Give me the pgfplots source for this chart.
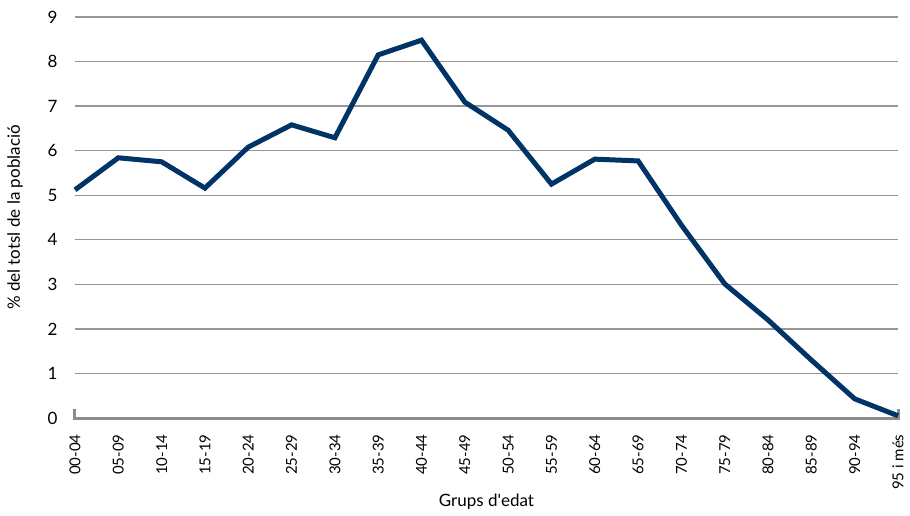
\documentclass[border=0pt]{standalone}
\usepackage{fontspec}
\setmainfont{Lato}
\usepackage{pgfplots}
\pgfplotsset{compat=1.18}
\definecolor{navy}{RGB}{0,52,102}
\definecolor{gridg}{RGB}{150,150,150}
\definecolor{axg}{RGB}{140,140,142}
\begin{document}
\fontsize{16pt}{19pt}\selectfont
\begin{tikzpicture}
\path[use as bounding box] (-75pt,-97pt) rectangle (835pt,418pt);
\begin{axis}[
  scale only axis, width=823pt, height=401pt,
  at={(0,0)}, anchor=south west,
  xmin=0, xmax=19, ymin=0, ymax=9,
  xtick={0,...,19},
  xticklabels={00-04,05-09,10-14,15-19,20-24,25-29,30-34,35-39,40-44,45-49,50-54,55-59,60-64,65-69,70-74,75-79,80-84,85-89,90-94,95 i més},
  xticklabel style={rotate=90, anchor=east, xshift=-11pt, font=\fontsize{15pt}{18pt}\selectfont},
  ytick={0,...,9},
  yticklabel style={font=\fontsize{17pt}{20pt}\selectfont, xshift=-12pt},
  /pgf/number format/assume math mode=true,
  major tick length=0pt,
  axis x line=bottom, axis y line=left,
  axis line style={draw=none, -},
  ymajorgrids, grid style={gridg, line width=1.3pt},
  clip=false,
  xlabel={Grups d\textquotesingle edat}, xlabel style={font=\fontsize{17pt}{20pt}\selectfont, at={(axis description cs:0.5,0)}, anchor=center, yshift=-84pt},
  ylabel={\% del totsl de la població}, ylabel style={font=\fontsize{17pt}{20pt}\selectfont, at={(axis description cs:0,0.5)}, anchor=center, yshift=60pt},
]
\draw[axg, line width=3pt] (axis cs:0,0.2) -- (axis cs:0,0) -- (axis cs:19,0) -- (axis cs:19,0.2);
\addplot[navy, line width=5pt, line join=miter, mark=none] coordinates {
(0,5.12) (1,5.84) (2,5.75) (3,5.16) (4,6.08) (5,6.58) (6,6.29) (7,8.15) (8,8.48) (9,7.09)
(10,6.46) (11,5.25) (12,5.81) (13,5.77) (14,4.33) (15,3.01) (16,2.20) (17,1.30) (18,0.43) (19,0.05)
};
\end{axis}
\end{tikzpicture}
\end{document}
